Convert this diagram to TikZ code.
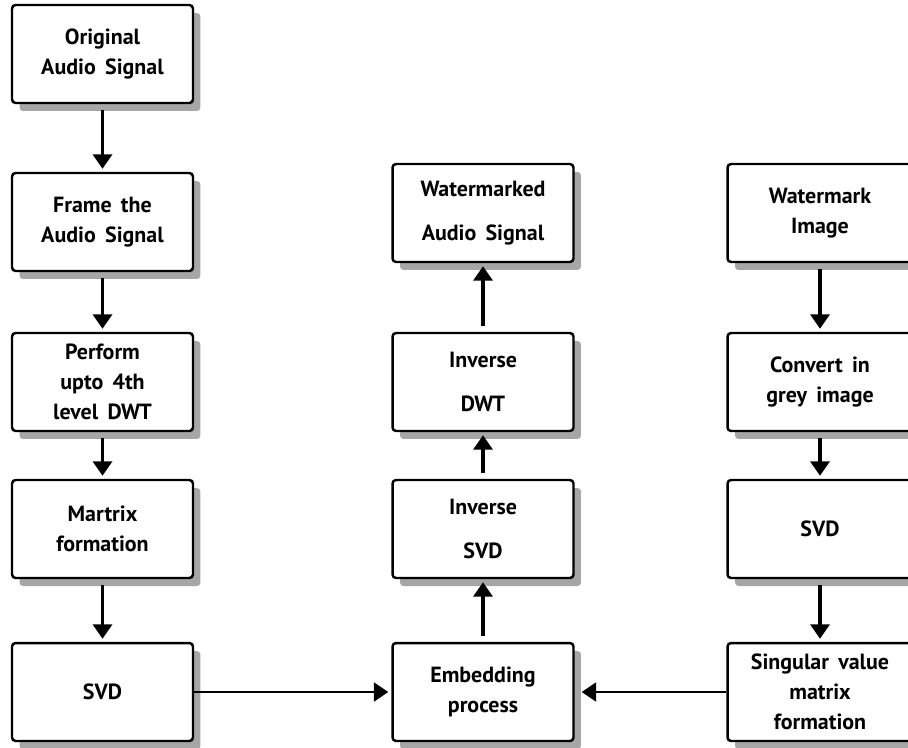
\documentclass[tikz,border=0pt]{standalone}
\usepackage{fontspec}
\setmainfont{PT Sans}
\usetikzlibrary{arrows.meta,shadows}
\newcommand{\boxfont}{\fontsize{12.5}{17}\selectfont\bfseries\spaceskip=0.42em plus 0.1em\relax}

\begin{document}
\begin{tikzpicture}[x=0.02cm, y=-0.02cm, >={Triangle[length=0.29cm, width=0.38cm]},
    box/.style={draw, line width=1.4pt, rounded corners=2pt, fill=white,
        minimum width=3.62cm, minimum height=1.96cm, align=center,
        font=\boxfont,
        drop shadow={shadow xshift=0.15cm, shadow yshift=-0.16cm, fill=black!35, opacity=1}},
    flow/.style={->, line width=2pt, shorten <=0.12cm, shorten >=0.06cm}]
\useasboundingbox (0,0) rectangle (908,747);

% Audio signal column
\node [box] (orig) at (102.5,54) {Original\\Audio Signal};
\node [box] (frame) at (102.5,222) {Frame the\\Audio Signal};
\node [box] (dwt) at (102.5,382) {Perform\\upto 4th\\level DWT};
\node [box] (matrix) at (102.5,529) {Martrix\\formation};
\node [box] (svdl) at (102.5,692) {SVD};

% Embedding and inverse transforms
\node [box] (wmaudio) at (483,213) {Watermarked\\[0.28cm]Audio Signal};
\node [box] (idwt) at (483,382) {Inverse\\[0.28cm]DWT};
\node [box] (isvd) at (483,529) {Inverse\\[0.28cm]SVD};
\node [box] (embed) at (483,692) {Embedding\\process};

% Watermark image column
\node [box, minimum width=3.7cm] (wmimg) at (820,213) {Watermark\\Image};
\node [box, minimum width=3.7cm] (grey) at (820,382) {Convert in\\grey image};
\node [box, minimum width=3.7cm] (svdr) at (820,529) {SVD};
\node [box, minimum width=3.7cm] (singular) at (820,692) {Singular value\\matrix\\formation};

\draw [flow] (orig) -- (frame);
\draw [flow] (frame) -- (dwt);
\draw [flow] (dwt) -- (matrix);
\draw [flow] (matrix) -- (svdl);

\draw [flow] (embed) -- (isvd);
\draw [flow] (isvd) -- (idwt);
\draw [flow] (idwt) -- (wmaudio);

\draw [flow] (wmimg) -- (grey);
\draw [flow] (grey) -- (svdr);
\draw [flow] (svdr) -- (singular);

\draw [flow, line width=1.4pt, shorten <=0pt] (svdl) -- (embed);
\draw [flow, line width=1.4pt, shorten <=0pt, shorten >=0.14cm] (singular) -- (embed);
\end{tikzpicture}
\end{document}
